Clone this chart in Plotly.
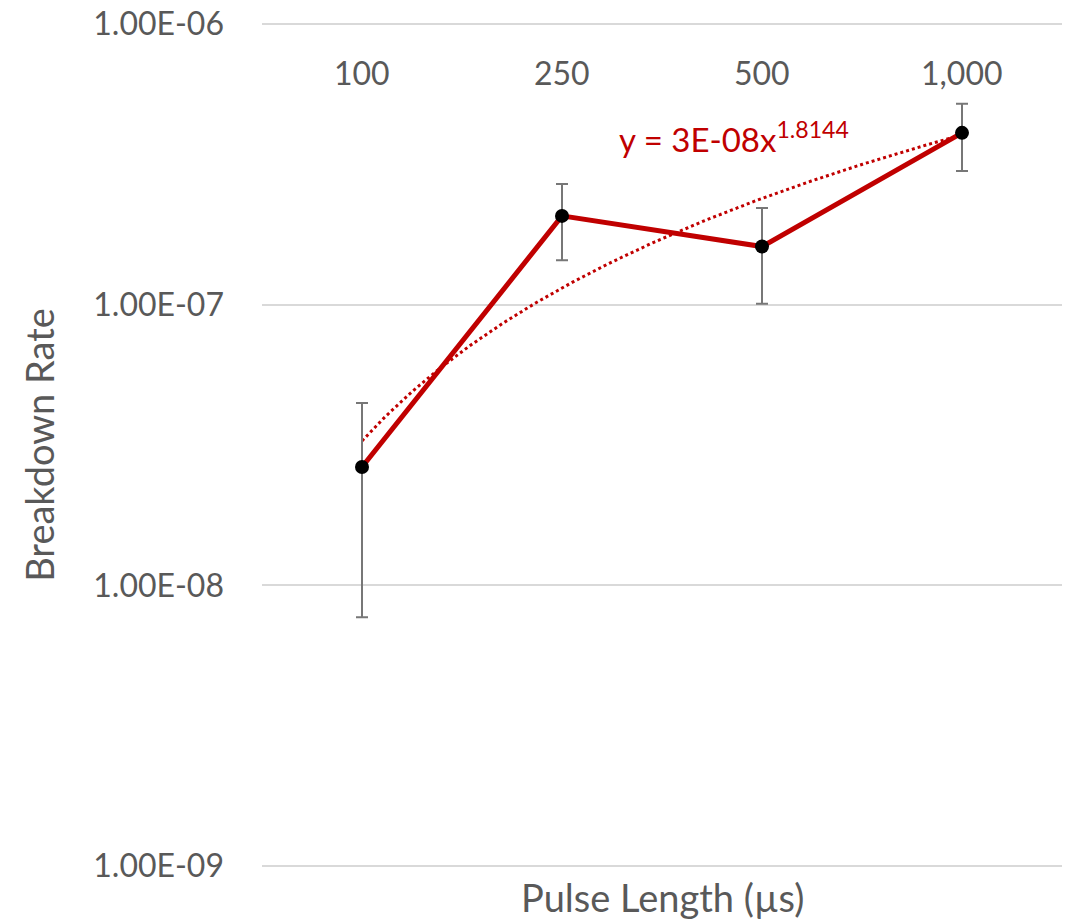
import numpy as np
import plotly.graph_objects as go

categories = ["100", "250", "500", "1,000"]
cat_index = [1, 2, 3, 4]
breakdown_rate = [2.64e-8, 2.07e-7, 1.61e-7, 4.09e-7]
err_plus = [1.82e-8, 0.62e-7, 0.60e-7, 1.10e-7]
err_minus = [1.87e-8, 0.63e-7, 0.604e-7, 1.10e-7]
y_ticks = [1e-9, 1e-8, 1e-7, 1e-6]
y_tick_labels = ["1.00E-09", "1.00E-08", "1.00E-07", "1.00E-06"]

RED = "#C00000"
GRAY_TEXT = "#595959"
FONT = "Lato"

# power-law trendline (least squares in log-log space, like Excel)
slope, intercept = np.polyfit(np.log10(cat_index), np.log10(breakdown_rate), 1)
xt = np.linspace(1, 4, 200)
yt = 10 ** intercept * xt ** slope

fig = go.Figure()
fig.add_trace(go.Scatter(
    x=xt, y=yt, mode="lines",
    line=dict(color=RED, width=3, dash="dot"),
    hoverinfo="skip", showlegend=False,
))
fig.add_trace(go.Scatter(
    x=cat_index, y=breakdown_rate, mode="lines+markers",
    line=dict(color=RED, width=5),
    marker=dict(color="black", size=14),
    error_y=dict(type="data", symmetric=False, array=err_plus, arrayminus=err_minus,
                 color="#777777", thickness=2, width=6),
    showlegend=False,
))

PAD = 0.01  # decades beyond the first/last gridline so edge gridlines are drawn
TOP, BOT = 24, 866
dec_px = (BOT - TOP) / 3
pad_px = PAD * dec_px
plot_top = TOP - pad_px
plot_h = (BOT - TOP) + 2 * pad_px

# category labels (Excel draws them just under the top gridline)
for xi, lab in zip(cat_index, categories):
    fig.add_annotation(
        x=xi, y=1 - (73 - plot_top) / plot_h, xref="x", yref="paper",
        xanchor="center", yanchor="middle", text=lab, showarrow=False,
        font=dict(family=FONT, size=32, color=GRAY_TEXT),
    )

fig.add_annotation(
    x=(617 - 262) / 800, y=1 - (137 - plot_top) / plot_h, xref="paper", yref="paper",
    xanchor="left", yanchor="middle",
    text="y = 3E-08x<sup>1.8144</sup>", showarrow=False,
    font=dict(family=FONT, size=33, color=RED),
)
fig.add_annotation(
    x=0.5, y=-(897 - (BOT + pad_px)) / plot_h, xref="paper", yref="paper",
    xanchor="center", yanchor="middle",
    text="Pulse Length (µs)", showarrow=False,
    font=dict(family=FONT, size=38, color=GRAY_TEXT),
)

fig.update_layout(
    width=1074, height=919,
    margin=dict(l=262, r=12, t=plot_top, b=919 - BOT - pad_px),
    plot_bgcolor="white", paper_bgcolor="white",
    font=dict(family=FONT, size=32, color=GRAY_TEXT),
    xaxis=dict(
        range=[0.5, 4.5], automargin=False,
        tickmode="array", tickvals=cat_index, ticktext=categories,
        showticklabels=False,
        showgrid=False, zeroline=False, showline=False, ticks="",
    ),
    yaxis=dict(
        type="log", range=[-9 - PAD, -6 + PAD], automargin=False,
        tickmode="array", tickvals=y_ticks, ticktext=y_tick_labels,
        showgrid=True, gridcolor="#D9D9D9", gridwidth=2,
        zeroline=False, showline=False, ticks="",
        ticklabelstandoff=37,
        tickfont=dict(family=FONT, size=32, color=GRAY_TEXT),
        title=dict(text="Breakdown Rate", standoff=26,
                   font=dict(family=FONT, size=38, color=GRAY_TEXT)),
    ),
)

fig.write_html("out.html")
